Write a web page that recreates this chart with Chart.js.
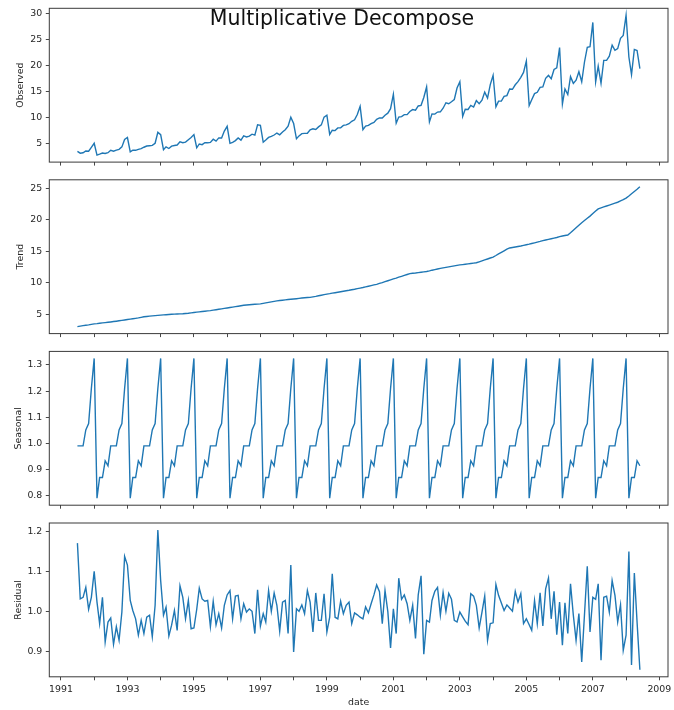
<!DOCTYPE html>
<html>
<head>
<meta charset="utf-8">
<script src="https://cdn.jsdelivr.net/npm/chart.js@4.4.1/dist/chart.umd.min.js"></script>
<style>
  html, body { margin: 0; padding: 0; background: #fff; }
  #fig { position: relative; width: 674px; height: 710px; overflow: hidden; }
  #fig canvas { position: absolute; left: 0; }
  #title {
    position: absolute; left: 0; top: 7.5px; width: 684px; text-align: center;
    font-family: "DejaVu Sans", sans-serif; font-size: 20.5px; line-height: 1;
    color: #111; z-index: 2;
  }
</style>
</head>
<body>
<div id="fig">
  <canvas id="cObs" width="674" height="168" style="top:0px"></canvas>
  <canvas id="cTrend" width="674" height="168" style="top:171px"></canvas>
  <canvas id="cSeas" width="674" height="168" style="top:343px"></canvas>
  <canvas id="cResid" width="674" height="195" style="top:515px"></canvas>
  <div id="title">Multiplicative Decompose</div>
</div>
<script>
// ---- Data (mensal, jul/1991 .. jun/2008) ----------------------------------
const START_YEAR = 1991;
const START_MONTH = 7;

const OBSERVED = [
  3.53, 3.18, 3.25, 3.61, 3.57, 4.31, 5.09, 2.81, 2.99, 3.20, 3.13, 3.27,
  3.74, 3.56, 3.78, 3.92, 4.39, 5.81, 6.19, 3.45, 3.77, 3.73, 3.91, 4.05,
  4.32, 4.56, 4.61, 4.67, 5.09, 7.18, 6.73, 3.84, 4.39, 4.08, 4.54, 4.65,
  4.75, 5.35, 5.20, 5.30, 5.77, 6.20, 6.75, 4.22, 4.95, 4.82, 5.19, 5.17,
  5.26, 5.86, 5.49, 6.12, 6.09, 7.42, 8.33, 5.07, 5.26, 5.60, 6.11, 5.69,
  6.49, 6.30, 6.47, 6.83, 6.65, 8.61, 8.52, 5.28, 5.71, 6.21, 6.41, 6.67,
  7.05, 6.70, 7.25, 7.68, 8.35, 10.09, 8.87, 5.94, 6.50, 6.94, 6.99, 7.00,
  7.67, 7.87, 7.73, 8.23, 8.61, 10.11, 10.49, 6.78, 7.59, 7.52, 8.04, 8.06,
  8.52, 8.62, 8.84, 9.31, 9.60, 10.62, 12.17, 7.69, 8.37, 8.51, 8.86, 9.08,
  9.69, 9.95, 9.95, 10.47, 10.87, 11.72, 14.50, 8.95, 10.12, 10.20, 10.58, 10.58,
  11.18, 11.56, 11.45, 12.25, 12.37, 13.87, 15.90, 9.19, 10.73, 10.68, 11.08, 11.13,
  11.82, 12.87, 12.68, 13.06, 13.49, 15.70, 16.91, 10.25, 11.61, 11.57, 12.36, 12.04,
  13.28, 12.67, 13.35, 14.91, 13.77, 16.36, 18.14, 12.10, 13.18, 13.19, 14.10, 14.24,
  15.52, 15.46, 16.32, 16.92, 17.75, 18.70, 20.86, 12.32, 13.43, 14.62, 14.87, 15.83,
  15.92, 17.56, 18.12, 17.48, 19.25, 19.58, 23.46, 12.61, 15.53, 14.45, 17.88, 16.59,
  17.21, 18.84, 16.90, 20.65, 23.50, 23.63, 28.30, 16.90, 19.90, 16.60, 21.00, 21.00,
  21.83, 23.93, 22.93, 23.26, 25.25, 25.81, 29.67, 21.65, 18.26, 23.11, 22.91, 19.43
];

const TREND = [
  3.07, 3.15, 3.22, 3.29, 3.35, 3.42, 3.50, 3.55, 3.61, 3.66, 3.71, 3.76,
  3.81, 3.87, 3.93, 3.99, 4.06, 4.12, 4.19, 4.25, 4.31, 4.38, 4.45, 4.54,
  4.63, 4.68, 4.73, 4.77, 4.81, 4.85, 4.89, 4.93, 4.96, 4.99, 5.02, 5.05,
  5.07, 5.09, 5.12, 5.16, 5.20, 5.25, 5.31, 5.36, 5.41, 5.46, 5.51, 5.56,
  5.61, 5.68, 5.75, 5.82, 5.89, 5.96, 6.03, 6.10, 6.17, 6.24, 6.31, 6.38,
  6.45, 6.49, 6.53, 6.57, 6.61, 6.64, 6.68, 6.76, 6.84, 6.92, 7.00, 7.08,
  7.16, 7.21, 7.26, 7.31, 7.36, 7.41, 7.45, 7.50, 7.55, 7.60, 7.65, 7.68,
  7.71, 7.79, 7.87, 7.96, 8.05, 8.14, 8.23, 8.30, 8.38, 8.45, 8.52, 8.60,
  8.67, 8.75, 8.83, 8.92, 9.00, 9.09, 9.18, 9.27, 9.37, 9.47, 9.57, 9.68,
  9.78, 9.92, 10.06, 10.21, 10.35, 10.49, 10.63, 10.77, 10.91, 11.05, 11.19, 11.33,
  11.47, 11.53, 11.58, 11.64, 11.70, 11.76, 11.82, 11.92, 12.02, 12.11, 12.20, 12.30,
  12.39, 12.47, 12.55, 12.63, 12.71, 12.78, 12.86, 12.91, 12.96, 13.02, 13.08, 13.14,
  13.20, 13.35, 13.50, 13.65, 13.80, 13.95, 14.10, 14.35, 14.60, 14.85, 15.10, 15.35,
  15.55, 15.62, 15.70, 15.78, 15.86, 15.95, 16.05, 16.15, 16.25, 16.36, 16.47, 16.58,
  16.70, 16.80, 16.90, 17.00, 17.10, 17.20, 17.35, 17.45, 17.52, 17.60, 17.95, 18.35,
  18.75, 19.15, 19.55, 19.90, 20.25, 20.60, 21.00, 21.40, 21.75, 21.90, 22.05, 22.20,
  22.35, 22.50, 22.65, 22.80, 23.00, 23.20, 23.45, 23.80, 24.15, 24.50, 24.85, 25.25
];

const SEASONAL = [
  0.991, 0.991, 0.991, 1.052, 1.076, 1.210, 1.325, 0.791, 0.870, 0.870, 0.934, 0.915,
  0.991, 0.991, 0.991, 1.052, 1.076, 1.210, 1.325, 0.791, 0.870, 0.870, 0.934, 0.915,
  0.991, 0.991, 0.991, 1.052, 1.076, 1.210, 1.325, 0.791, 0.870, 0.870, 0.934, 0.915,
  0.991, 0.991, 0.991, 1.052, 1.076, 1.210, 1.325, 0.791, 0.870, 0.870, 0.934, 0.915,
  0.991, 0.991, 0.991, 1.052, 1.076, 1.210, 1.325, 0.791, 0.870, 0.870, 0.934, 0.915,
  0.991, 0.991, 0.991, 1.052, 1.076, 1.210, 1.325, 0.791, 0.870, 0.870, 0.934, 0.915,
  0.991, 0.991, 0.991, 1.052, 1.076, 1.210, 1.325, 0.791, 0.870, 0.870, 0.934, 0.915,
  0.991, 0.991, 0.991, 1.052, 1.076, 1.210, 1.325, 0.791, 0.870, 0.870, 0.934, 0.915,
  0.991, 0.991, 0.991, 1.052, 1.076, 1.210, 1.325, 0.791, 0.870, 0.870, 0.934, 0.915,
  0.991, 0.991, 0.991, 1.052, 1.076, 1.210, 1.325, 0.791, 0.870, 0.870, 0.934, 0.915,
  0.991, 0.991, 0.991, 1.052, 1.076, 1.210, 1.325, 0.791, 0.870, 0.870, 0.934, 0.915,
  0.991, 0.991, 0.991, 1.052, 1.076, 1.210, 1.325, 0.791, 0.870, 0.870, 0.934, 0.915,
  0.991, 0.991, 0.991, 1.052, 1.076, 1.210, 1.325, 0.791, 0.870, 0.870, 0.934, 0.915,
  0.991, 0.991, 0.991, 1.052, 1.076, 1.210, 1.325, 0.791, 0.870, 0.870, 0.934, 0.915,
  0.991, 0.991, 0.991, 1.052, 1.076, 1.210, 1.325, 0.791, 0.870, 0.870, 0.934, 0.915,
  0.991, 0.991, 0.991, 1.052, 1.076, 1.210, 1.325, 0.791, 0.870, 0.870, 0.934, 0.915,
  0.991, 0.991, 0.991, 1.052, 1.076, 1.210, 1.325, 0.791, 0.870, 0.870, 0.934, 0.915
];

const RESIDUAL = [
  1.171, 1.031, 1.035, 1.060, 1.005, 1.035, 1.100, 1.023, 0.969, 1.035, 0.923, 0.973,
  0.983, 0.917, 0.961, 0.927, 0.998, 1.138, 1.116, 1.027, 1.002, 0.981, 0.940, 0.977,
  0.944, 0.985, 0.990, 0.936, 1.015, 1.204, 1.077, 0.990, 1.010, 0.938, 0.965, 1.002,
  0.952, 1.064, 1.035, 0.981, 1.027, 0.956, 0.958, 1.005, 1.058, 1.031, 1.025, 1.027,
  0.961, 1.025, 0.966, 0.994, 0.958, 1.015, 1.041, 1.052, 0.981, 1.038, 1.040, 0.981,
  1.019, 0.998, 1.006, 1.000, 0.944, 1.054, 0.963, 0.994, 0.973, 1.052, 1.000, 1.046,
  1.015, 0.950, 1.023, 1.027, 0.944, 1.116, 0.898, 1.006, 1.000, 1.016, 0.994, 1.052,
  1.023, 0.948, 1.046, 0.977, 0.977, 1.044, 0.948, 0.985, 1.094, 0.985, 0.981, 1.025,
  0.994, 1.015, 1.023, 0.969, 0.996, 0.991, 0.985, 0.981, 1.011, 0.996, 1.019, 1.041,
  1.066, 1.049, 0.969, 1.052, 0.999, 0.908, 1.006, 0.944, 1.083, 1.030, 1.041, 1.019,
  0.977, 1.015, 0.932, 1.041, 1.089, 0.892, 0.977, 0.973, 1.027, 1.050, 1.060, 0.990,
  1.047, 1.000, 1.045, 1.030, 0.977, 0.973, 0.998, 0.986, 0.975, 0.966, 1.044, 1.038,
  1.015, 0.958, 0.998, 1.038, 0.927, 0.969, 0.971, 1.067, 1.040, 1.021, 1.002, 1.016,
  1.008, 1.000, 1.050, 1.023, 1.044, 0.969, 0.981, 0.966, 0.952, 1.027, 0.969, 1.046,
  0.963, 1.056, 1.083, 0.981, 1.050, 0.941, 1.023, 0.915, 1.021, 0.944, 1.069, 0.990,
  0.927, 0.994, 0.873, 0.990, 1.113, 0.948, 1.035, 1.030, 1.069, 0.877, 1.035, 1.038,
  0.998, 1.077, 1.040, 0.973, 1.016, 0.902, 0.940, 1.150, 0.865, 1.096, 0.973, 0.853
];

const X_TICKS = [1991, 1992, 1993, 1994, 1995, 1996, 1997, 1998, 1999, 2000,
                 2001, 2002, 2003, 2004, 2005, 2006, 2007, 2008, 2009];
const X_LABELS = ['1991', '', '1993', '', '1995', '', '1997', '', '1999', '',
                  '2001', '', '2003', '', '2005', '', '2007', '', '2009'];
const OBS_TICKS = [5, 10, 15, 20, 25, 30];
const TREND_TICKS = [5, 10, 15, 20, 25];
const SEAS_TICKS = [0.8, 0.9, 1.0, 1.1, 1.2, 1.3];
const RESID_TICKS = [0.9, 1.0, 1.1, 1.2];

// ---- Estilo ---------------------------------------------------------------
const LINE = '#1f77b4';
const TXT = '#262626';
const TICK = '#333333';
const FONT = { family: "'DejaVu Sans', sans-serif", size: 9.4 };
const PLOT_H = 153.8;
const Y_AXIS_W = 49.3;
const RIGHT_PAD = 6;

// ---- Helpers --------------------------------------------------------------
function decimalYears(count) {
  const out = [];
  for (let i = 0; i < count; i++) {
    const k = START_MONTH - 1 + i;
    const y = START_YEAR + Math.floor(k / 12);
    const m = k % 12;
    const t0 = Date.UTC(y, 0, 1);
    const t1 = Date.UTC(y + 1, 0, 1);
    out.push(y + (Date.UTC(y, m, 1) - t0) / (t1 - t0));
  }
  return out;
}

// margem de 5% como o matplotlib
function padRange(arr, frac = 0.05) {
  const lo = Math.min(...arr);
  const hi = Math.max(...arr);
  const pad = (hi - lo) * frac;
  return { min: lo - pad, max: hi + pad };
}

const X = decimalYears(OBSERVED.length);
const xr = padRange(X);

const framePlugin = {
  id: 'frame',
  afterDraw(chart) {
    const { ctx, chartArea: a } = chart;
    ctx.save();
    ctx.strokeStyle = '#3a3a3a';
    ctx.lineWidth = 1;
    ctx.strokeRect(a.left, a.top, a.right - a.left, a.bottom - a.top);
    ctx.restore();
  },
};

function makePanel(p) {
  const canvas = document.getElementById(p.id);
  const yr = padRange(p.data);
  const xAxisH = canvas.height - p.padTop - PLOT_H;
  return new Chart(canvas.getContext('2d'), {
    type: 'line',
    data: {
      datasets: [{
        data: X.map((x, i) => ({ x, y: p.data[i] })),
        borderColor: LINE,
        borderWidth: 1.4,
        pointRadius: 0,
        fill: false,
        tension: 0,
      }],
    },
    options: {
      responsive: false,
      animation: false,
      events: [],
      layout: { padding: { top: p.padTop, right: RIGHT_PAD, bottom: 0, left: 0 } },
      plugins: { legend: { display: false }, tooltip: { enabled: false } },
      scales: {
        x: {
          type: 'linear',
          min: xr.min,
          max: xr.max,
          afterBuildTicks: (s) => { s.ticks = X_TICKS.map((v) => ({ value: v })); },
          afterFit: (s) => { s.height = xAxisH; s.paddingLeft = 0; s.paddingRight = 0; },
          grid: { drawOnChartArea: false, drawTicks: true, tickLength: 3.5, color: TICK, tickColor: TICK, tickWidth: 0.9 },
          border: { display: false },
          ticks: {
            display: p.xLabels, autoSkip: false, maxRotation: 0, minRotation: 0,
            padding: 3.5, color: TXT, font: FONT,
            callback: (v, i) => X_LABELS[i],
          },
          title: { display: p.xLabels, text: 'date', color: TXT, font: FONT, padding: { top: 0, bottom: 1.4 } },
        },
        y: {
          type: 'linear',
          min: yr.min,
          max: yr.max,
          afterBuildTicks: (s) => { s.ticks = p.ticks.map((v) => ({ value: v })); },
          afterFit: (s) => { s.width = Y_AXIS_W; s.paddingTop = 0; s.paddingBottom = 0; },
          grid: { drawOnChartArea: false, drawTicks: true, tickLength: 3.5, color: TICK, tickColor: TICK, tickWidth: 0.9 },
          border: { display: false },
          ticks: {
            autoSkip: false, padding: 3.5, color: TXT, font: FONT,
            callback: (v) => v.toFixed(p.dec),
          },
          title: { display: true, text: p.label, color: TXT, font: FONT, padding: { top: p.titlePad, bottom: 0 } },
        },
      },
    },
    plugins: [framePlugin],
  });
}

// ---- Init -----------------------------------------------------------------
[
  { id: 'cObs', label: 'Observed', data: OBSERVED, ticks: OBS_TICKS, dec: 0, padTop: 8.3, titlePad: 15, xLabels: false },
  { id: 'cTrend', label: 'Trend', data: TREND, ticks: TREND_TICKS, dec: 0, padTop: 8.8, titlePad: 14.5, xLabels: false },
  { id: 'cSeas', label: 'Seasonal', data: SEASONAL, ticks: SEAS_TICKS, dec: 1, padTop: 8.4, titlePad: 12.7, xLabels: false },
  { id: 'cResid', label: 'Residual', data: RESIDUAL, ticks: RESID_TICKS, dec: 1, padTop: 8.0, titlePad: 12.7, xLabels: true },
].forEach(makePanel);
</script>
</body>
</html>
